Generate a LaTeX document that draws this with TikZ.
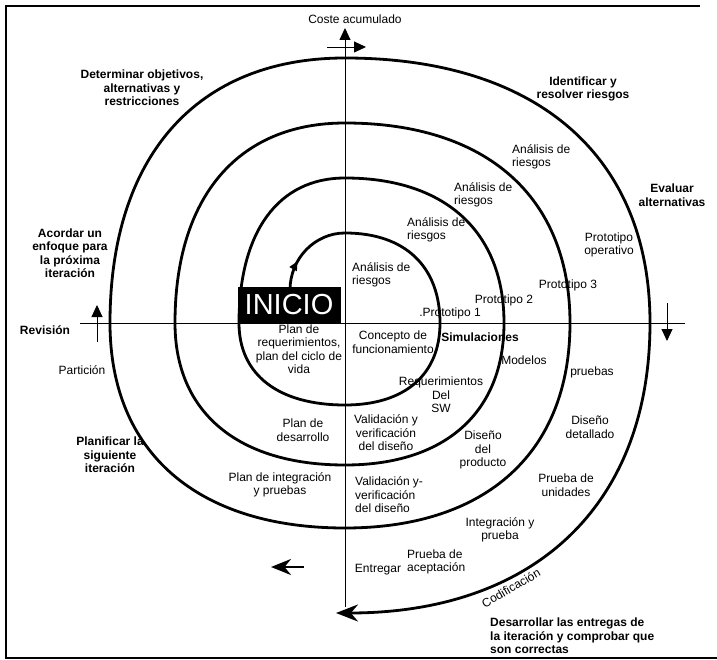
\documentclass[tikz,border=0pt]{standalone}
\usepackage{fontspec}
\setmainfont{Liberation Sans}
\usetikzlibrary{arrows.meta,calc,decorations.markings}

% fullness of the quarter turns of the spiral
\newcommand\spk{0.63}

\begin{document}
\begin{tikzpicture}[x=1pt,y=-1pt,
  spiral/.style={line width=2.8pt, line cap=round},
  axis/.style={line width=0.9pt},
  frame/.style={line width=1.4pt},
  tip/.style={-{Triangle[length=12pt,width=11pt]}},
  lbl/.style={font=\fontsize{12}{13.5}\selectfont, inner sep=0pt, align=center},
  blbl/.style={lbl, font=\fontsize{12}{13.5}\selectfont\bfseries},
  lleft/.style={lbl, align=left, anchor=west},
  bleft/.style={blbl, align=left, anchor=west},
]
\useasboundingbox (0,0) rectangle (717,660);

% frame
\coordinate (f1) at (700,6);
\coordinate (f2) at (6,6);
\coordinate (f3) at (6,658);
\coordinate (f4) at (717,658);
\draw[frame] (f1) -- (f2) -- (f3) -- (f4);

% axis crossings of the spiral
\coordinate (s)  at (290,290);
\coordinate (t0) at (345,233);
\coordinate (r0) at (440,323);
\coordinate (b0) at (345,405);
\coordinate (l0) at (239,323);
\coordinate (t1) at (345,178);
\coordinate (r1) at (504,323);
\coordinate (b1) at (345,465);
\coordinate (l1) at (175,323);
\coordinate (t2) at (345,123);
\coordinate (r2) at (570,323);
\coordinate (b2) at (345,528);
\coordinate (l2) at (110,323);
\coordinate (t3) at (345,58);
\coordinate (r3) at (650,323);
\coordinate (e)  at (336,613);

% axes
\coordinate (vtop) at (345,28);
\coordinate (vbot) at (345,607);
\coordinate (hl) at (80,323);
\coordinate (hr) at (685,323);
\draw[axis, tip] (vbot) -- (vtop);
\draw[axis] (hl) -- (hr);

% direction ticks
\coordinate (ta) at (327,47);
\coordinate (tb) at (366,47);
\draw[axis, tip] (ta) -- (tb);
\coordinate (ra) at (667,303);
\coordinate (rb) at (667,341);
\draw[axis, tip] (ra) -- (rb);
\coordinate (la) at (97,342);
\coordinate (lb) at (97,305);
\draw[axis, tip] (la) -- (lb);

% spiral
\draw[spiral, -{Stealth[length=22pt,width=17pt]},
  postaction={decorate},
  decoration={markings, mark=at position 30pt with {\arrow{Triangle[length=9pt,width=8pt]}}}]
  (s) .. controls ($(s)!0.55!(s|-t0)$) and ($(t0)!0.55!(s|-t0)$) .. (t0)
  .. controls ($(t0)!\spk!(r0|-t0)$) and ($(r0)!\spk!(r0|-t0)$) .. (r0)
  .. controls ($(r0)!\spk!(r0|-b0)$) and ($(b0)!\spk!(r0|-b0)$) .. (b0)
  .. controls ($(b0)!\spk!(l0|-b0)$) and ($(l0)!\spk!(l0|-b0)$) .. (l0)
  .. controls ($(l0)!\spk!(l0|-t1)$) and ($(t1)!\spk!(l0|-t1)$) .. (t1)
  .. controls ($(t1)!\spk!(r1|-t1)$) and ($(r1)!\spk!(r1|-t1)$) .. (r1)
  .. controls ($(r1)!\spk!(r1|-b1)$) and ($(b1)!\spk!(r1|-b1)$) .. (b1)
  .. controls ($(b1)!\spk!(l1|-b1)$) and ($(l1)!\spk!(l1|-b1)$) .. (l1)
  .. controls ($(l1)!\spk!(l1|-t2)$) and ($(t2)!\spk!(l1|-t2)$) .. (t2)
  .. controls ($(t2)!\spk!(r2|-t2)$) and ($(r2)!\spk!(r2|-t2)$) .. (r2)
  .. controls ($(r2)!\spk!(r2|-b2)$) and ($(b2)!\spk!(r2|-b2)$) .. (b2)
  .. controls ($(b2)!\spk!(l2|-b2)$) and ($(l2)!\spk!(l2|-b2)$) .. (l2)
  .. controls ($(l2)!\spk!(l2|-t3)$) and ($(t3)!\spk!(l2|-t3)$) .. (t3)
  .. controls ($(t3)!\spk!(r3|-t3)$) and ($(r3)!\spk!(r3|-t3)$) .. (r3)
  .. controls ($(r3)!\spk!(r3|-e)$) and ($(e)!\spk!(r3|-e)$) .. (e);

% loose arrow
\coordinate (fa) at (304,567);
\coordinate (fb) at (271,567);
\draw[line width=2.8pt, -{Stealth[length=20pt,width=16pt]}] (fa) -- (fb);

% start box
\node[fill=black, text=white, inner sep=0pt, minimum width=103pt, minimum height=36pt,
      font=\fontsize{29}{29}\selectfont] (inicio) at (289,305) {INICIO};

% labels
\node[lbl] (cost) at (355,19) {Coste acumulado};
\node[blbl] (det) at (142,88) {Determinar objetivos,\\alternativas y\\restricciones};
\node[blbl] (ident) at (583,89) {Identificar y\\resolver riesgos};
\node[blbl] (eval) at (672,195) {Evaluar\\alternativas};
\node[blbl] (acord) at (70,253) {Acordar un\\enfoque para\\la próxima\\iteración};
\node[blbl] (rev) at (45,330) {Revisión};
\node[lbl] (part) at (82,370) {Partición};
\node[blbl] (planif) at (110,455) {Planificar la\\siguiente\\iteración};
\node[bleft] (desa) at (490,636) {Desarrollar las entregas de\\la iteración y comprobar que\\son correctas};

\node[lleft] (ar3) at (512,157) {Análisis de\\riesgos};
\node[lleft] (ar2) at (454,195) {Análisis de\\riesgos};
\node[lleft] (ar1) at (407,230) {Análisis de\\riesgos};
\node[lleft] (ar0) at (352,275) {Análisis de\\riesgos};
\node[lbl] (pop) at (609,245) {Prototipo\\operativo};
\node[lbl] (p3) at (568,285) {Prototipo 3};
\node[lbl] (p2) at (504,300) {Prototipo 2};
\node[lbl] (p1) at (450,313) {.Prototipo 1};
\node[lbl] (conc) at (393,342) {Concepto de\\funcionamiento};
\node[blbl] (simu) at (480,337) {Simulaciones};
\node[lbl] (mod) at (524,360) {Modelos};
\node[lbl] (prb) at (592,372) {pruebas};
\node[lbl] (req) at (441,395) {Requerimientos\\Del\\SW};
\node[lbl] (dd) at (590,427) {Diseño\\detallado};
\node[lbl] (vv1) at (386,433) {Validación y\\verificación\\del diseño};
\node[lbl] (dp) at (483,450) {Diseño\\del\\producto};
\node[lbl] (preq) at (299,349) {Plan de\\requerimientos,\\plan del ciclo de\\vida};
\node[lbl] (pdes) at (303,430) {Plan de\\desarrollo};
\node[lbl] (pint) at (280,485) {Plan de integración\\y pruebas};
\node[lleft] (vv2) at (355,495) {Validación y-\\verificación\\del diseño};
\node[lbl] (pu) at (566,485) {Prueba de\\unidades};
\node[lbl] (ip) at (500,530) {Integración y\\prueba};
\node[lleft] (pa) at (407,562) {Prueba de\\aceptación};
\node[lbl] (ent) at (378,570) {Entregar};
\node[lbl, rotate=30] (cod) at (511,588) {Codificación};
\end{tikzpicture}
\end{document}
